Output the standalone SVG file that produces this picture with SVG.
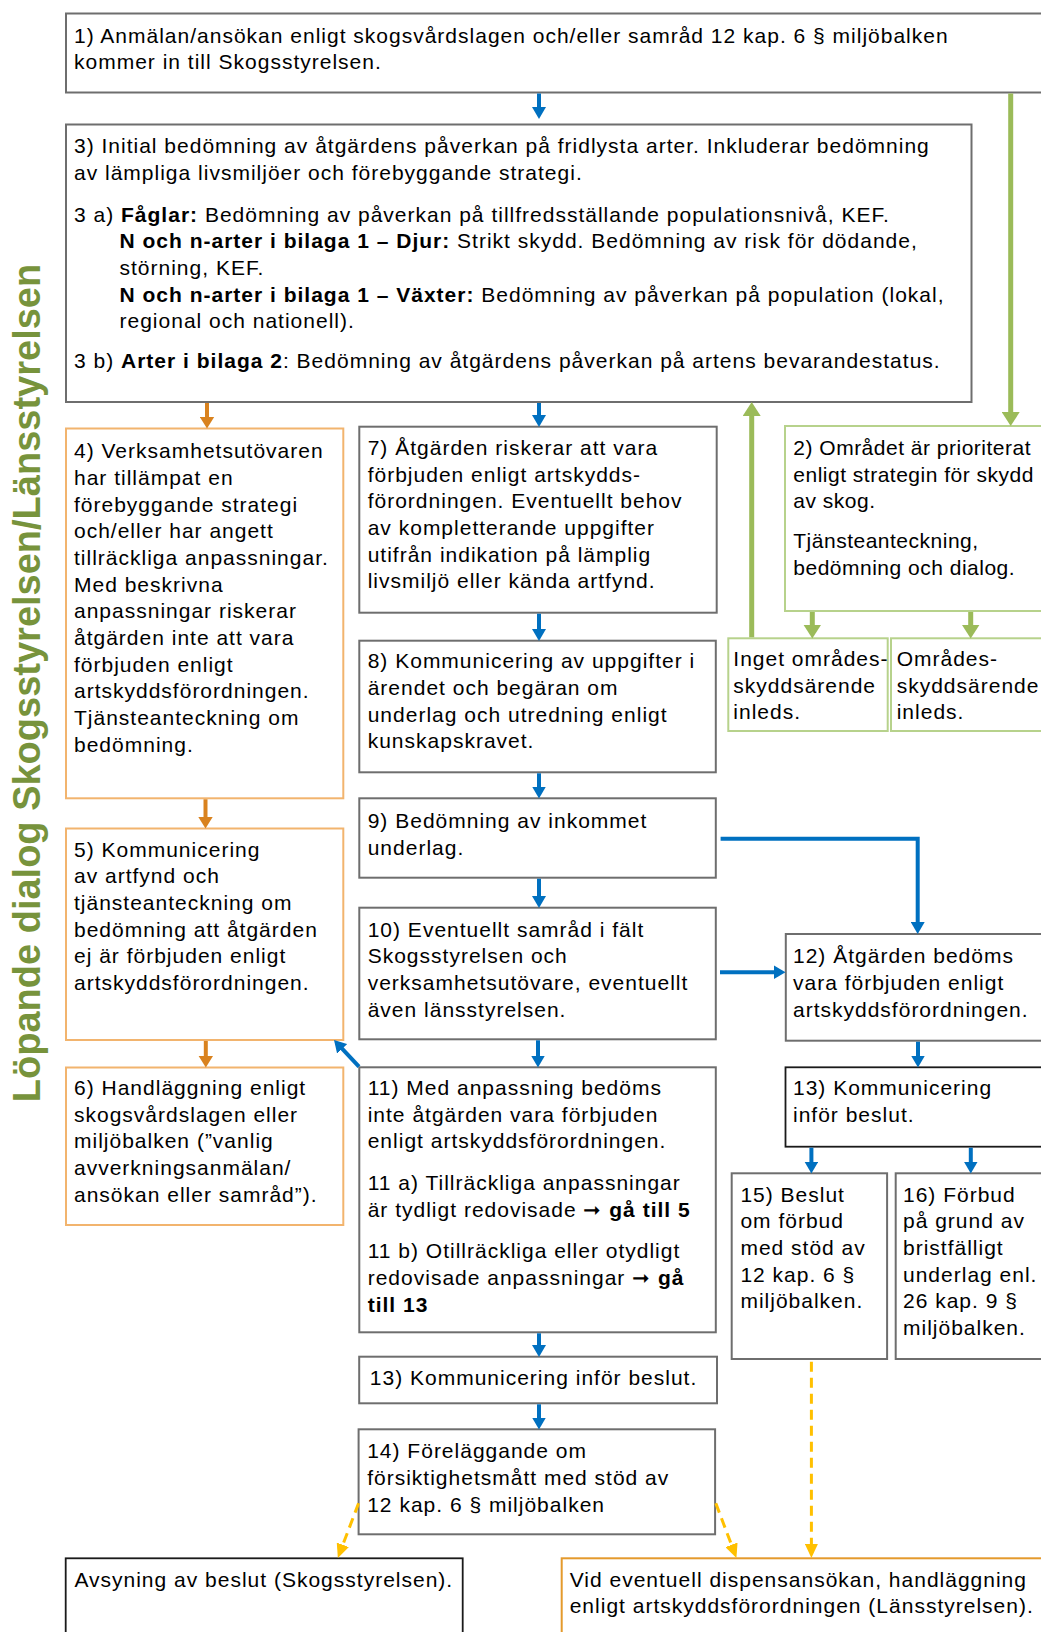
<svg xmlns="http://www.w3.org/2000/svg" width="1041" height="1632" viewBox="0 0 1041 1632">
<style>
text{font-family:"Liberation Sans",Arial,sans-serif;font-size:21px;letter-spacing:1px;fill:#000}
.b{font-weight:bold}
.n{letter-spacing:0.5px}
.g{fill:none;stroke:#6e6e6e;stroke-width:2}
.k{fill:none;stroke:#1a1a1a;stroke-width:1.8}
.o{fill:none;stroke:#F2B46E;stroke-width:2}
.od{fill:none;stroke:#E49A2C;stroke-width:2}
.gr{fill:none;stroke:#B7D28C;stroke-width:2}
.ab{fill:none;stroke:#0070C0;stroke-width:4;marker-end:url(#mb)}
.ao{fill:none;stroke:#D9821E;stroke-width:4;marker-end:url(#mo)}
.ag{fill:none;stroke:#9BBB59;stroke-width:5;marker-end:url(#mg)}
.ay{fill:none;stroke:#FFC000;stroke-width:3;stroke-dasharray:10 6;marker-end:url(#my)}
.side{font-size:38px;font-weight:bold;fill:#77933C;letter-spacing:0}
</style>
<defs>
<marker id="mb" markerUnits="userSpaceOnUse" markerWidth="12" markerHeight="14" refX="6" refY="7" orient="auto"><path d="M0,0 L12,7 L0,14 z" fill="#0070C0"/></marker>
<marker id="mo" markerUnits="userSpaceOnUse" markerWidth="12" markerHeight="15" refX="6" refY="7.5" orient="auto"><path d="M0,0 L12,7.5 L0,15 z" fill="#D9821E"/></marker>
<marker id="mg" markerUnits="userSpaceOnUse" markerWidth="14" markerHeight="18" refX="6" refY="9" orient="auto"><path d="M0,0 L14,9 L0,18 z" fill="#9BBB59"/></marker>
<marker id="my" markerUnits="userSpaceOnUse" markerWidth="14" markerHeight="13" refX="6" refY="6.5" orient="auto"><path d="M0,0 L14,6.5 L0,13 z" fill="#FFC000"/></marker>
</defs>
<rect width="1041" height="1632" fill="#fff"/>

<text class="side" transform="translate(40,683) rotate(-90)" text-anchor="middle">Löpande dialog Skogsstyrelsen/Länsstyrelsen</text>

<g id="n1"><rect class="g" x="66" y="13.5" width="990" height="79"/>
<text x="74" y="42.7">1) Anmälan/ansökan enligt skogsvårdslagen och/eller samråd 12 kap. 6 § miljöbalken</text>
<text x="74" y="69.3">kommer in till Skogsstyrelsen.</text></g>

<g id="n3"><rect class="g" x="66" y="124.5" width="905.5" height="277.5"/>
<text x="74" y="153.3">3) Initial bedömning av åtgärdens påverkan på fridlysta arter. Inkluderar bedömning</text>
<text x="74" y="180">av lämpliga livsmiljöer och förebyggande strategi.</text>
<text x="74" y="221.7">3 a) <tspan class="b">Fåglar:</tspan> Bedömning av påverkan på tillfredsställande populationsnivå, KEF.</text>
<text x="119.5" y="248.3"><tspan class="b">N och n-arter i bilaga 1 – Djur:</tspan> Strikt skydd. Bedömning av risk för dödande,</text>
<text x="119.5" y="275">störning, KEF.</text>
<text x="119.5" y="301.7"><tspan class="b">N och n-arter i bilaga 1 – Växter:</tspan> Bedömning av påverkan på population (lokal,</text>
<text x="119.5" y="328.3">regional och nationell).</text>
<text x="74" y="368.3">3 b) <tspan class="b">Arter i bilaga 2</tspan>: Bedömning av åtgärdens påverkan på artens bevarandestatus.</text></g>

<g id="n4"><rect class="o" x="66" y="428.5" width="277.3" height="369.8"/>
<text x="74" y="458.3">4) Verksamhetsutövaren</text>
<text x="74" y="485">har tillämpat en</text>
<text x="74" y="511.7">förebyggande strategi</text>
<text x="74" y="538.3">och/eller har angett</text>
<text x="74" y="565">tillräckliga anpassningar.</text>
<text x="74" y="591.7">Med beskrivna</text>
<text x="74" y="618.3">anpassningar riskerar</text>
<text x="74" y="645">åtgärden inte att vara</text>
<text x="74" y="671.7">förbjuden enligt</text>
<text x="74" y="698.3">artskyddsförordningen.</text>
<text x="74" y="725">Tjänsteanteckning om</text>
<text x="74" y="751.7">bedömning.</text></g>

<g id="n5"><rect class="o" x="66" y="828.5" width="277.3" height="211.5"/>
<text x="74" y="856.7">5) Kommunicering</text>
<text x="74" y="883.3">av artfynd och</text>
<text x="74" y="910">tjänsteanteckning om</text>
<text x="74" y="936.7">bedömning att åtgärden</text>
<text x="74" y="963.3">ej är förbjuden enligt</text>
<text x="74" y="990">artskyddsförordningen.</text></g>

<g id="n6"><rect class="o" x="66" y="1067.5" width="277.3" height="157.5"/>
<text x="74" y="1095">6) Handläggning enligt</text>
<text x="74" y="1121.7">skogsvårdslagen eller</text>
<text x="74" y="1148.3">miljöbalken (”vanlig</text>
<text x="74" y="1175">avverkningsanmälan/</text>
<text x="74" y="1201.7">ansökan eller samråd”).</text></g>

<g id="n7"><rect class="g" x="359.3" y="426.7" width="357.4" height="186"/>
<text x="367.7" y="455">7) Åtgärden riskerar att vara</text>
<text x="367.7" y="481.7">förbjuden enligt artskydds-</text>
<text x="367.7" y="508.3">förordningen. Eventuellt behov</text>
<text x="367.7" y="535">av kompletterande uppgifter</text>
<text x="367.7" y="561.7">utifrån indikation på lämplig</text>
<text x="367.7" y="588.3">livsmiljö eller kända artfynd.</text></g>

<g id="n8"><rect class="g" x="359.3" y="640.7" width="356.5" height="131.6"/>
<text x="367.7" y="668.3">8) Kommunicering av uppgifter i</text>
<text x="367.7" y="695">ärendet och begäran om</text>
<text x="367.7" y="721.7">underlag och utredning enligt</text>
<text x="367.7" y="748.3">kunskapskravet.</text></g>

<g id="n9"><rect class="g" x="359.3" y="798.3" width="356.5" height="79.4"/>
<text x="367.7" y="828.3">9) Bedömning av inkommet</text>
<text x="367.7" y="855">underlag.</text></g>

<g id="n10"><rect class="g" x="359.3" y="907.7" width="356.5" height="131.6"/>
<text x="367.7" y="936.7">10) Eventuellt samråd i fält</text>
<text x="367.7" y="963.3">Skogsstyrelsen och</text>
<text x="367.7" y="990">verksamhetsutövare, eventuellt</text>
<text x="367.7" y="1016.7">även länsstyrelsen.</text></g>

<g id="n11"><rect class="g" x="359.3" y="1067.3" width="356.5" height="265"/>
<text x="367.7" y="1095">11) Med anpassning bedöms</text>
<text x="367.7" y="1121.7">inte åtgärden vara förbjuden</text>
<text x="367.7" y="1148.3">enligt artskyddsförordningen.</text>
<text x="367.7" y="1190">11 a) Tillräckliga anpassningar</text>
<text x="367.7" y="1216.7">är tydligt redovisade ➞ <tspan class="b">gå till 5</tspan></text>
<text x="367.7" y="1258.3">11 b) Otillräckliga eller otydligt</text>
<text x="367.7" y="1285">redovisade anpassningar ➞ <tspan class="b">gå</tspan></text>
<text x="367.7" y="1311.7" class="b">till 13</text></g>

<g id="n13b"><rect class="g" x="359.2" y="1356.7" width="357.8" height="46.6"/>
<text x="369.8" y="1385">13) Kommunicering inför beslut.</text></g>

<g id="n14"><rect class="g" x="358.6" y="1429.3" width="356.5" height="105"/>
<text x="367.2" y="1458.3">14) Föreläggande om</text>
<text x="367.2" y="1485">försiktighetsmått med stöd av</text>
<text x="367.2" y="1511.7">12 kap. 6 § miljöbalken</text></g>

<g id="n2"><rect class="gr" x="785" y="426" width="270" height="185"/>
<text class="n" x="793.3" y="455">2) Området är prioriterat</text>
<text class="n" x="793.3" y="481.7">enligt strategin för skydd</text>
<text class="n" x="793.3" y="508.3">av skog.</text>
<text class="n" x="793.3" y="548.3">Tjänsteanteckning,</text>
<text class="n" x="793.3" y="575">bedömning och dialog.</text></g>

<g id="nInget"><rect class="gr" x="728.3" y="638.3" width="159.4" height="92.7"/>
<text x="733.3" y="666">Inget områdes-</text>
<text x="733.3" y="692.7">skyddsärende</text>
<text x="733.3" y="719.3">inleds.</text></g>

<g id="nOmr"><rect class="gr" x="891" y="638.3" width="170" height="92.7"/>
<text x="896.7" y="666">Områdes-</text>
<text x="896.7" y="692.7">skyddsärende</text>
<text x="896.7" y="719.3">inleds.</text></g>

<g id="n12"><rect class="g" x="785.8" y="934" width="270" height="106.7"/>
<text x="793" y="963.3">12) Åtgärden bedöms</text>
<text x="793" y="990">vara förbjuden enligt</text>
<text x="793" y="1016.7">artskyddsförordningen.</text></g>

<g id="n13a"><rect class="k" x="785.5" y="1067.3" width="270" height="79.4"/>
<text x="793" y="1095">13) Kommunicering</text>
<text x="793" y="1121.7">inför beslut.</text></g>

<g id="n15"><rect class="g" x="731.7" y="1173.3" width="155.4" height="185.7"/>
<text x="740.4" y="1201.7">15) Beslut</text>
<text x="740.4" y="1228.3">om förbud</text>
<text x="740.4" y="1255">med stöd av</text>
<text x="740.4" y="1281.7">12 kap. 6 §</text>
<text x="740.4" y="1308.3">miljöbalken.</text></g>

<g id="n16"><rect class="g" x="895.7" y="1173.3" width="170" height="185.7"/>
<text x="903" y="1201.7">16) Förbud</text>
<text x="903" y="1228.3">på grund av</text>
<text x="903" y="1255">bristfälligt</text>
<text x="903" y="1281.7">underlag enl.</text>
<text x="903" y="1308.3">26 kap. 9 §</text>
<text x="903" y="1335">miljöbalken.</text></g>

<g id="nAvs"><rect class="k" x="65.7" y="1558.3" width="397" height="100"/>
<text x="74.4" y="1586.7">Avsyning av beslut (Skogsstyrelsen).</text></g>

<g id="nVid"><rect class="od" x="561.7" y="1558.3" width="500" height="100"/>
<text x="569.7" y="1586.7">Vid eventuell dispensansökan, handläggning</text>
<text x="569.7" y="1613.3">enligt artskyddsförordningen (Länsstyrelsen).</text></g>

<g id="connectors">
<path class="ab" d="M539,93.5 V113"/>
<path class="ab" d="M539,403 V421"/>
<path class="ab" d="M539,613.7 V635"/>
<path class="ab" d="M539,773.3 V792.5"/>
<path class="ab" d="M539,878.7 V902"/>
<path class="ab" d="M538,1040.3 V1061.5"/>
<path class="ab" d="M539,1333.3 V1351"/>
<path class="ab" d="M539,1404.3 V1423.5"/>
<path class="ab" d="M720.6,838.7 H917.7 V928"/>
<path class="ab" d="M720,972.3 H779.5"/>
<path class="ab" d="M918,1041.7 V1061.5"/>
<path class="ab" d="M811.4,1147.7 V1167.5"/>
<path class="ab" d="M970.8,1147.7 V1167.5"/>
<path class="ab" d="M359,1066.7 L338.1,1044.4"/>
<path class="ao" d="M207,403 V422.5"/>
<path class="ao" d="M205.5,799.3 V822.5"/>
<path class="ao" d="M205.8,1041 V1061.5"/>
<path class="ag" d="M1010.7,93.5 V418"/>
<path class="ag" d="M751.7,637.3 V410"/>
<path class="ag" d="M812.3,612 V630.5"/>
<path class="ag" d="M970.7,612 V630.5"/>
<path class="ay" d="M358.6,1503.3 L340.7,1550.4"/>
<path class="ay" d="M715.8,1503.3 L733.6,1550.4"/>
<path class="ay" d="M811.4,1361.7 V1550"/>
</g>
</svg>
